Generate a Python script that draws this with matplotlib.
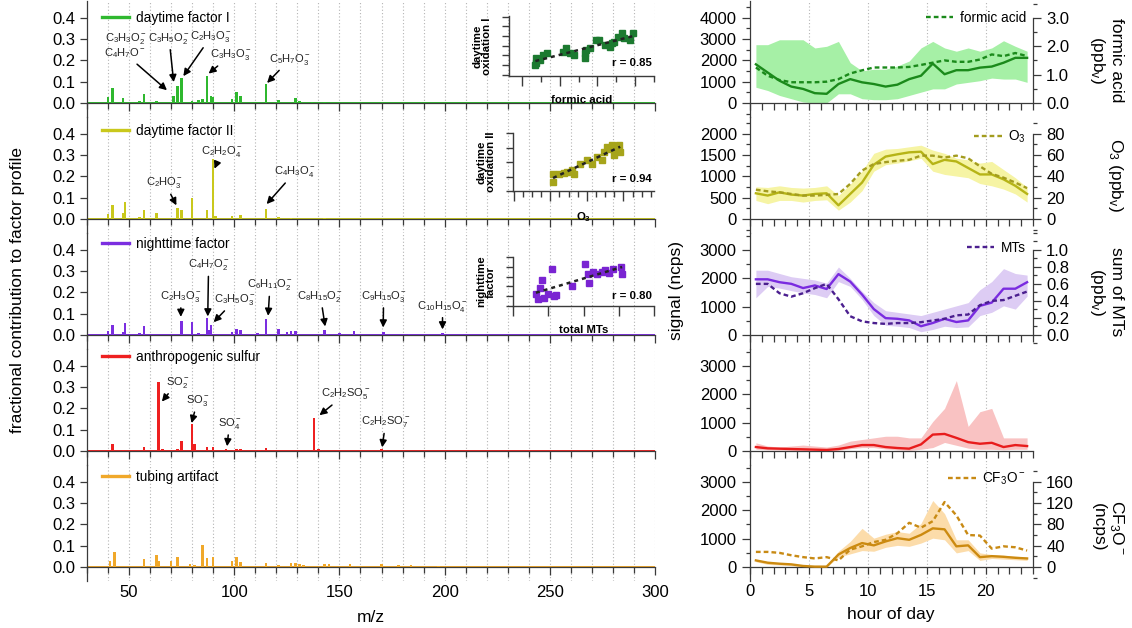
import numpy as np
import matplotlib
matplotlib.use("Agg")
import matplotlib.pyplot as plt
from matplotlib.ticker import MultipleLocator, NullFormatter, FormatStrFormatter
from matplotlib.lines import Line2D

plt.rcParams['font.family'] = ['Liberation Sans', 'DejaVu Sans']
plt.rcParams['mathtext.fontset'] = 'custom'
plt.rcParams['mathtext.rm'] = 'Liberation Sans'
plt.rcParams['mathtext.it'] = 'Liberation Sans:italic'
plt.rcParams['mathtext.bf'] = 'Liberation Sans:bold'

# ---------------------------------------------------------------- factor mass spectra
factor_names = ["daytime factor I", "daytime factor II", "nighttime factor",
                "anthropogenic sulfur", "tubing artifact"]

mz_day1 = [40, 42, 47, 55, 57, 63, 71, 73, 75, 80, 83, 85, 87, 89, 90, 99, 101, 103,
           115, 121, 129, 131, 137, 143]
frac_day1 = [0.026, 0.069, 0.023, 0.008, 0.042, 0.011, 0.035, 0.080, 0.118, 0.011, 0.012,
             0.020, 0.126, 0.034, 0.028, 0.018, 0.050, 0.035, 0.090, 0.014, 0.024, 0.010,
             0.004, 0.004]

mz_day2 = [40, 42, 47, 48, 55, 57, 63, 73, 75, 80, 87, 90, 91, 99, 103, 115, 121, 127, 143]
frac_day2 = [0.021, 0.064, 0.026, 0.079, 0.008, 0.044, 0.026, 0.053, 0.044, 0.099, 0.044,
             0.280, 0.012, 0.012, 0.018, 0.049, 0.008, 0.006, 0.004]

mz_night = [40, 42, 47, 48, 55, 57, 75, 80, 83, 87, 88, 89, 99, 101, 103, 111, 115, 121,
            125, 127, 129, 143, 150, 157, 171, 183, 199]
frac_night = [0.020, 0.049, 0.012, 0.056, 0.008, 0.041, 0.065, 0.062, 0.008, 0.081, 0.023,
              0.046, 0.014, 0.030, 0.023, 0.008, 0.076, 0.026, 0.012, 0.020, 0.020, 0.023,
              0.008, 0.020, 0.012, 0.005, 0.008]

mz_sulf = [40, 42, 47, 57, 64, 66, 73, 75, 80, 81, 87, 90, 96, 101, 103, 112, 115, 138,
           140, 170]
frac_sulf = [0.004, 0.031, 0.004, 0.018, 0.326, 0.009, 0.009, 0.045, 0.128, 0.031, 0.018,
             0.018, 0.011, 0.009, 0.009, 0.004, 0.014, 0.157, 0.008, 0.008]

mz_tube = [41, 43, 57, 63, 64, 70, 73, 79, 81, 85, 87, 90, 99, 101, 103, 115, 121, 127,
           129, 131, 133, 143, 145, 155, 170, 178, 184, 197]
frac_tube = [0.030, 0.072, 0.037, 0.057, 0.027, 0.027, 0.048, 0.012, 0.010, 0.101, 0.042,
             0.045, 0.030, 0.045, 0.025, 0.019, 0.008, 0.018, 0.019, 0.015, 0.010, 0.012,
             0.012, 0.015, 0.012, 0.008, 0.008, 0.006]

spectra = [(mz_day1, frac_day1), (mz_day2, frac_day2), (mz_night, frac_night),
           (mz_sulf, frac_sulf), (mz_tube, frac_tube)]

# ion labels: (text, text position, arrow tip) in (m/z, fraction)
ions_day1 = [(r"$\mathrm{C_3H_3O_2^-}$", (48.5, 0.305), None),
             (r"$\mathrm{C_4H_7O^-}$", (48.0, 0.232), (68.0, 0.060)),
             (r"$\mathrm{C_3H_5O_2^-}$", (69.0, 0.305), (71.2, 0.098)),
             (r"$\mathrm{C_2H_3O_3^-}$", (89.0, 0.313), (75.8, 0.126)),
             (r"$\mathrm{C_3H_3O_3^-}$", (98.5, 0.226), (87.8, 0.138)),
             (r"$\mathrm{C_5H_7O_3^-}$", (126.5, 0.206), (115.6, 0.094))]
ions_day2 = [(r"$\mathrm{C_2HO_3^-}$", (67.0, 0.170), (72.5, 0.064)),
             (r"$\mathrm{C_2H_2O_4^-}$", (94.0, 0.315), (90.6, 0.236)),
             (r"$\mathrm{C_4H_3O_4^-}$", (129.0, 0.222), (115.4, 0.070))]
ions_night = [(r"$\mathrm{C_2H_3O_3^-}$", (74.6, 0.182), (74.6, 0.085)),
              (r"$\mathrm{C_4H_7O_2^-}$", (87.8, 0.330), (87.4, 0.087)),
              (r"$\mathrm{C_3H_5O_3^-}$", (100.5, 0.166), (90.2, 0.060)),
              (r"$\mathrm{C_6H_{11}O_2^-}$", (117.0, 0.236), (116.1, 0.090)),
              (r"$\mathrm{C_8H_{15}O_2^-}$", (141.0, 0.182), (143.2, 0.040)),
              (r"$\mathrm{C_9H_{15}O_3^-}$", (171.0, 0.182), (170.8, 0.035)),
              (r"$\mathrm{C_{10}H_{15}O_4^-}$", (199.0, 0.136), (199.0, 0.026))]
ions_sulf = [(r"$\mathrm{SO_2^-}$", (73.0, 0.322), (65.6, 0.232)),
             (r"$\mathrm{SO_3^-}$", (82.6, 0.237), (79.7, 0.131)),
             (r"$\mathrm{SO_4^-}$", (97.7, 0.130), (96.6, 0.022)),
             (r"$\mathrm{C_2H_2SO_5^-}$", (153.0, 0.268), (140.5, 0.168)),
             (r"$\mathrm{C_2H_2SO_7^-}$", (172.0, 0.137), (170.3, 0.017))]
ions_tube = []
ion_labels = [ions_day1, ions_day2, ions_night, ions_sulf, ions_tube]

bar_colors = ["#2fb82f", "#c9c81c", "#7b2ee0", "#ee2020", "#f0a82a"]
line_colors = ["#1b8a1b", "#b6b416", "#7a2be0", "#e81c1c", "#cc8a10"]
dash_colors = ["#1b8a1b", "#a39c1e", "#4b1f8f", None, "#c88a14"]
fill_colors = ["#a6f0a6", "#f6f4a4", "#ddccf4", "#f9c2c2", "#fcdcaa"]

# ---------------------------------------------------------------- diurnal profiles
hours = np.arange(0.5, 24.0, 1.0)

sig_day1 = [1815, 1430, 1046, 770, 660, 460, 430, 890, 1120, 970, 890, 770, 860, 1120,
            1280, 1850, 1350, 1540, 1540, 1660, 1710, 1890, 2120, 2120]
sig_day1_hi = [2738, 2738, 2969, 2969, 2969, 2585, 2662, 2892, 1892, 1508, 1585, 1585,
               1738, 1969, 2585, 2892, 2585, 2431, 2585, 2431, 2585, 2923, 2662, 2431]
sig_day1_lo = [738, 585, 354, 200, 46, 0, 0, 431, 431, 200, 154, 154, 200, 354, 508, 662,
               662, 892, 969, 1046, 1169, 1123, 1123, 969]
formic_ppb = [1.25, 0.96, 0.81, 0.73, 0.73, 0.73, 0.75, 0.84, 1.04, 1.15, 1.25, 1.25,
              1.25, 1.27, 1.34, 1.42, 1.50, 1.45, 1.45, 1.53, 1.71, 1.65, 1.76, 1.65]

sig_day2 = [603, 550, 626, 573, 550, 588, 603, 321, 588, 855, 1275, 1466, 1519, 1565,
            1580, 1290, 1389, 1351, 1198, 1046, 1046, 931, 779, 588]
sig_day2_hi = [756, 740, 779, 740, 725, 740, 779, 550, 817, 1122, 1542, 1641, 1656, 1695,
               1733, 1618, 1542, 1427, 1389, 1313, 1351, 1160, 969, 740]
sig_day2_lo = [435, 359, 435, 435, 397, 435, 450, 206, 397, 664, 1122, 1275, 1313, 1366,
               1427, 1122, 1046, 1008, 969, 832, 779, 702, 588, 397]
o3_ppb = [27.5, 26.0, 25.0, 23.5, 22.0, 22.0, 22.6, 23.5, 33.0, 45.5, 51.6, 53.4, 54.7,
          55.6, 59.5, 59.5, 57.7, 59.5, 57.0, 49.5, 42.4, 38.8, 34.2, 29.0]

sig_night = [1961, 1961, 1859, 1802, 1653, 1745, 1619, 2144, 1881, 1425, 912, 593, 570,
             513, 308, 422, 570, 456, 513, 1026, 1140, 1630, 1630, 1859]
sig_night_hi = [2281, 2281, 2166, 2052, 1995, 1938, 1824, 2394, 1995, 1539, 1140, 855, 798,
                741, 684, 798, 912, 1026, 1140, 1596, 1881, 2337, 2166, 2109]
sig_night_lo = [1311, 1710, 1653, 1562, 1482, 1425, 1311, 1881, 1710, 1254, 684, 342, 308,
                262, 114, 194, 308, 262, 285, 684, 798, 1026, 912, 1368]
mts_ppb = [0.60, 0.60, 0.49, 0.45, 0.49, 0.55, 0.60, 0.42, 0.22, 0.16, 0.14, 0.13, 0.14,
           0.14, 0.15, 0.17, 0.19, 0.23, 0.24, 0.35, 0.40, 0.41, 0.46, 0.51]

sig_sulf = [138, 92, 81, 69, 58, 46, 35, 69, 138, 208, 208, 138, 104, 81, 231, 577, 600,
            461, 311, 254, 288, 138, 208, 173]
sig_sulf_hi = [288, 173, 138, 173, 208, 173, 138, 208, 346, 404, 461, 519, 519, 461, 461,
               1038, 1500, 2480, 865, 1384, 1500, 461, 461, 461]
sig_sulf_lo = [60, 40, 30, 20, 10, 0, 0, 20, 80, 120, 120, 70, 40, 20, 60, 120, 300, 200,
               100, 60, 60, 40, 60, 60]

sig_tube = [231, 150, 115, 92, 35, 12, 12, 438, 669, 842, 761, 900, 1015, 957, 1130, 1361,
            1326, 727, 761, 346, 381, 358, 323, 300]
sig_tube_hi = [265, 185, 150, 115, 58, 35, 35, 554, 900, 1361, 1015, 1153, 1246, 1188,
               1534, 2341, 1880, 957, 957, 496, 438, 415, 381, 346]
sig_tube_lo = [185, 92, 69, 46, 0, 0, 0, 346, 461, 577, 554, 692, 761, 727, 842, 1015,
               957, 496, 577, 231, 300, 277, 254, 231]
cf3o_ncps = [28.3, 28.3, 26.5, 22.0, 18.5, 16.0, 18.5, 12.3, 32.6, 38.8, 46.8, 51.0, 63.4,
             83.0, 73.8, 86.0, 122.0, 97.0, 60.0, 59.0, 34.5, 38.8, 37.0, 30.8]

signals = [(sig_day1, sig_day1_lo, sig_day1_hi), (sig_day2, sig_day2_lo, sig_day2_hi),
           (sig_night, sig_night_lo, sig_night_hi), (sig_sulf, sig_sulf_lo, sig_sulf_hi),
           (sig_tube, sig_tube_lo, sig_tube_hi)]
tracers = [formic_ppb, o3_ppb, mts_ppb, None, cf3o_ncps]
tracer_names = ["formic acid", r"O$_3$", "MTs", None, r"CF$_3$O$^-$"]

# ---------------------------------------------------------------- scatter insets
formic_x = [0.363, 0.381, 0.354, 0.469, 0.558, 0.664, 1.089, 1.178, 1.267, 1.373, 1.665,
            1.665, 1.709, 1.816, 1.975, 2.046, 2.197, 2.329, 2.374, 2.436, 2.551, 2.640,
            2.701, 2.861, 2.950]
ox1_y = [0.69, 0.17, 0.00, 0.52, 1.03, 1.21, 1.38, 1.72, 1.21, 1.03, 0.69, 1.21, 1.55,
         1.72, 2.59, 2.59, 2.07, 1.90, 2.24, 2.41, 2.93, 3.28, 2.76, 2.59, 3.34]
o3_x = [21.5, 21.5, 24.5, 27.3, 29.1, 31.8, 32.7, 36.4, 40.0, 42.7, 45.5, 48.2, 49.1, 50.9,
        52.7, 53.6, 54.9, 55.5, 57.3, 58.2]
ox2_y = [1.20, 0.62, 1.20, 1.24, 1.31, 1.47, 1.20, 1.89, 2.16, 1.89, 2.34, 2.16, 2.69, 3.03,
         2.92, 3.15, 2.46, 2.85, 3.15, 2.69]
mts_x = [0.130, 0.143, 0.152, 0.162, 0.175, 0.200, 0.219, 0.232, 0.244, 0.333, 0.410, 0.423,
         0.429, 0.453, 0.476, 0.505, 0.524, 0.543, 0.568, 0.610, 0.619]
night_y = [1.22, 0.68, 1.80, 2.64, 0.85, 1.22, 3.73, 1.02, 1.12, 2.03, 4.27, 3.25, 2.31,
           3.49, 3.25, 3.49, 3.66, 3.39, 3.73, 3.93, 3.25]
r_values = ["r = 0.85", "r = 0.94", "r = 0.80"]

# ---------------------------------------------------------------- layout
FIG_W, FIG_H = 1132, 628
fig = plt.figure(figsize=(FIG_W / 100, FIG_H / 100), dpi=100)


def px_box(left, top, width, height):
    return [left / FIG_W, 1 - (top + height) / FIG_H, width / FIG_W, height / FIG_H]


AX_GREY = "#3a3a3a"
GRID = dict(color="#b4b4b4", lw=0.8, ls=(0, (1, 2)), zorder=0)
TICK_FS = 12
ION_FS = 8
legend_y = [0.853, 0.88, 0.903, 0.93, 0.896]
tracer_leg_y = [0.855, 0.826, 0.87, None, 0.878]

# scale of the signal axes (value placed at the 0.4 height of the spectra axes)
sig_top = [4000, 2000, 3000, 3000, 3000]
sig_major = [1000, 500, 1000, 1000, 1000]
sig_minor = [500, 250, 500, 500, 500]
tr_top = [3.0, 80, 1.0, None, 160]
tr_major = [1.0, 20, 0.2, None, 40]
tr_minor = [0.5, 10, 0.1, None, 20]
tr_fmt = ["%.1f", "%d", "%.1f", None, "%d"]

Y_LO, Y_HI = -0.065, 0.48

for k in range(5):
    top = 0.8 + 116 * k
    last = (k == 4)

    # ---------- mass spectrum
    ax = fig.add_axes(px_box(87, top, 568, 116))
    ax.patch.set_alpha(0)
    ax.set_xlim(30, 300)
    ax.set_ylim(Y_LO, Y_HI)
    for m in range(40, 301, 10):
        ax.axvline(m, **GRID)
    mz, fr = spectra[k]
    ax.bar(mz, fr, width=1.2, color=bar_colors[k], linewidth=0, zorder=3)
    ax.axhline(0, color=bar_colors[k], lw=1.4, zorder=2)
    for side in ("top", "right"):
        ax.spines[side].set_visible(False)
    ax.spines["bottom"].set_position(("data", 0))
    for side in ("left", "bottom"):
        ax.spines[side].set_color(AX_GREY)
        ax.spines[side].set_linewidth(0.9)
    ax.set_yticks([0.0, 0.1, 0.2, 0.3, 0.4])
    ax.yaxis.set_major_formatter(FormatStrFormatter("%.1f"))
    ax.xaxis.set_major_locator(MultipleLocator(50))
    ax.xaxis.set_minor_locator(MultipleLocator(10))
    ax.tick_params(axis="both", which="both", direction="out", colors=AX_GREY,
                   labelcolor="black", labelsize=TICK_FS, width=0.9)
    ax.tick_params(axis="x", which="major", length=6, pad=7)
    ax.tick_params(axis="x", which="minor", length=4)
    ax.tick_params(axis="y", length=5)
    if not last:
        ax.xaxis.set_major_formatter(NullFormatter())
    ax.legend(handles=[Line2D([], [], color=bar_colors[k], lw=2.4)],
              labels=[factor_names[k]], loc="center left",
              bbox_to_anchor=(0.026, legend_y[k]), frameon=False, fontsize=9.8,
              handlelength=2.0, handletextpad=0.5, borderpad=0, borderaxespad=0)
    for label, txt_xy, tip in ion_labels[k]:
        if tip is None:
            ax.text(*txt_xy, label, fontsize=ION_FS, ha="center", va="center",
                    color="#222222")
        else:
            ax.annotate(label, xy=tip, xytext=txt_xy, fontsize=ION_FS, ha="center",
                        va="center", color="#222222",
                        arrowprops=dict(arrowstyle="-|>", color="black", lw=1.1,
                                        mutation_scale=10.5, shrinkA=1, shrinkB=0))

    # ---------- diurnal profile
    bx = fig.add_axes(px_box(750, top, 283, 116))
    bx.patch.set_alpha(0)
    bx.set_xlim(0, 24)
    s = sig_top[k] / 0.4
    bx.set_ylim(Y_LO * s, Y_HI * s)
    for h in (5, 10, 15, 20):
        bx.axvline(h, **GRID)
    mid, lo, hi = signals[k]
    bx.fill_between(hours, lo, hi, color=fill_colors[k], linewidth=0, zorder=1)
    bx.plot(hours, mid, color=line_colors[k], lw=1.7, zorder=3)
    for side in ("top", "right"):
        bx.spines[side].set_visible(False)
    bx.spines["bottom"].set_position(("data", 0))
    for side in ("left", "bottom"):
        bx.spines[side].set_color(AX_GREY)
        bx.spines[side].set_linewidth(0.9)
    bx.set_yticks(np.arange(0, sig_top[k] + 1, sig_major[k]))
    bx.yaxis.set_minor_locator(MultipleLocator(sig_minor[k]))
    bx.yaxis.set_major_formatter(FormatStrFormatter("%d"))
    bx.xaxis.set_major_locator(MultipleLocator(5))
    bx.xaxis.set_minor_locator(MultipleLocator(1))
    bx.tick_params(axis="both", which="both", direction="out", colors=AX_GREY,
                   labelcolor="black", labelsize=TICK_FS, width=0.9)
    bx.tick_params(axis="x", which="both", length=5, pad=7)
    bx.tick_params(axis="y", which="major", length=6)
    bx.tick_params(axis="y", which="minor", length=3)
    if not last:
        bx.xaxis.set_major_formatter(NullFormatter())

    if tracers[k] is not None:
        tx = bx.twinx()
        tx.patch.set_alpha(0)
        t = tr_top[k] / 0.4
        tx.set_ylim(Y_LO * t, Y_HI * t)
        ln, = tx.plot(hours, tracers[k], color=dash_colors[k], lw=1.7,
                      ls=(0, (2.0, 1.3)), zorder=4)
        for side in ("top", "left", "bottom"):
            tx.spines[side].set_visible(False)
        tx.spines["right"].set_bounds(0, tr_top[k])
        tx.spines["right"].set_color(AX_GREY)
        tx.spines["right"].set_linewidth(0.9)
        tx.set_yticks(np.arange(0, tr_top[k] + tr_major[k] / 2, tr_major[k]))
        tx.yaxis.set_minor_locator(MultipleLocator(tr_minor[k]))
        tx.yaxis.set_major_formatter(FormatStrFormatter(tr_fmt[k]))
        tx.tick_params(axis="y", which="both", direction="out", colors=AX_GREY,
                       labelcolor="black", labelsize=TICK_FS, width=0.9)
        tx.tick_params(axis="y", which="major", length=6)
        tx.tick_params(axis="y", which="minor", length=3)
        tx.legend(handles=[ln], labels=[tracer_names[k]], loc="center right",
                  bbox_to_anchor=(0.975, tracer_leg_y[k]), frameon=False, fontsize=9.8,
                  handlelength=2.0, handletextpad=0.5, borderpad=0, borderaxespad=0)

# ---------------------------------------------------------------- insets
insets = [
    dict(box=(509, 16, 145, 60), x=formic_x, y=ox1_y, color="#1c7a30",
         xlim=(-0.345, 3.5), xmaj=1.0, xmin=0.5, ylim=(-1.14, 5.07), ymaj=1.0,
         xlabel="formic acid", ylabel="daytime\noxidation I", r=r_values[0], ry=0.22),
    dict(box=(513, 133, 141, 58), x=o3_x, y=ox2_y, color="#a6a41a",
         xlim=(-0.4, 76.7), xmaj=20, xmin=5, ylim=(0, 4.0), ymaj=1.0,
         xlabel=r"O$_\mathbf{3}$", ylabel="daytime\noxidation II", r=r_values[1], ry=0.21),
    dict(box=(513, 257, 141, 49), x=mts_x, y=night_y, color="#7a24d2",
         xlim=(0, 0.8), xmaj=0.2, xmin=None, ylim=(0, 5.0), ymaj=1.0,
         xlabel="total MTs", ylabel="nighttime\nfactor", r=r_values[2], ry=0.20),
]
for ins in insets:
    ia = fig.add_axes(px_box(*ins["box"]))
    ia.patch.set_alpha(0)
    ia.set_xlim(*ins["xlim"])
    ia.set_ylim(*ins["ylim"])
    xs = np.asarray(ins["x"])
    ys = np.asarray(ins["y"])
    slope, icpt = np.polyfit(xs, ys, 1)
    xf = np.array([xs.min(), xs.max()])
    ia.plot(xf, slope * xf + icpt, color="#222222", lw=1.8, ls=(0, (1.6, 1.6)), zorder=4)
    ia.plot(xs, ys, ls="none", marker="s", ms=4.6, color=ins["color"], zorder=3)
    for side in ("top", "right"):
        ia.spines[side].set_visible(False)
    for side in ("left", "bottom"):
        ia.spines[side].set_color(AX_GREY)
        ia.spines[side].set_linewidth(1.0)
    ia.xaxis.set_major_locator(MultipleLocator(ins["xmaj"]))
    if ins["xmin"]:
        ia.xaxis.set_minor_locator(MultipleLocator(ins["xmin"]))
    ia.yaxis.set_major_locator(MultipleLocator(ins["ymaj"]))
    ia.xaxis.set_major_formatter(NullFormatter())
    ia.yaxis.set_major_formatter(NullFormatter())
    ia.tick_params(axis="both", which="both", direction="out", colors=AX_GREY, width=1.0)
    ia.tick_params(axis="x", which="major", length=7)
    ia.tick_params(axis="x", which="minor", length=4)
    ia.tick_params(axis="y", length=5)
    ia.set_xlabel(ins["xlabel"], fontsize=8.2, fontweight="bold", labelpad=3)
    ia.set_ylabel(ins["ylabel"], fontsize=8.2, fontweight="bold", labelpad=4,
                  linespacing=0.95)
    ia.text(0.985, ins["ry"], ins["r"], transform=ia.transAxes, ha="right", va="center",
            fontsize=8.2, fontweight="bold")

# ---------------------------------------------------------------- axis titles
fig.text(18 / FIG_W, 1 - 290 / FIG_H, "fractional contribution to factor profile",
         rotation=90, ha="center", va="center", fontsize=12.5)
fig.text(371 / FIG_W, 1 - 617 / FIG_H, "m/z", ha="center", va="center", fontsize=12.5)
fig.text(677 / FIG_W, 1 - 290 / FIG_H, "signal (ncps)", rotation=90, ha="center",
         va="center", fontsize=12.5)
fig.text(891 / FIG_W, 1 - 615 / FIG_H, "hour of day", ha="center", va="center",
         fontsize=12.5)
right_titles = [("formic acid\n(ppb$_\\mathrm{v}$)", 1106, 60),
                ("O$_3$ (ppb$_\\mathrm{v}$)", 1116, 175),
                ("sum of MTs\n(ppb$_\\mathrm{v}$)", 1106, 292),
                ("CF$_3$O$^-$\n(ncps)", 1108, 527)]
for txt, xp, yp in right_titles:
    fig.text(xp / FIG_W, 1 - yp / FIG_H, txt, rotation=270, ha="center", va="center",
             fontsize=12.5, multialignment="center", linespacing=1.1)

fig.savefig("out.png", dpi=100)
